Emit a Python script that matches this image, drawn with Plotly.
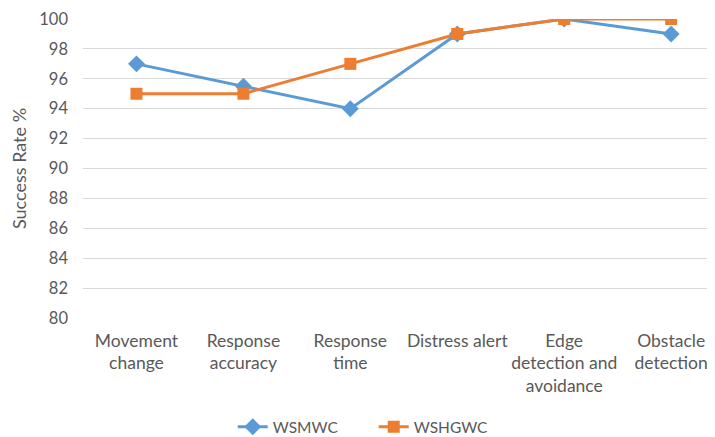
import plotly.graph_objects as go

categories = ["Movement<br>change", "Response<br>accuracy", "Response<br>time",
              "Distress alert", "Edge<br>detection and<br>avoidance", "Obstacle<br>detection"]
wsmwc = [97, 95.5, 94, 99, 100, 99]
wshgwc = [95, 95, 97, 99, 100, 100]
y_ticks = [80, 82, 84, 86, 88, 90, 92, 94, 96, 98, 100]

FONT = "Lato"
GREY = "#595959"

# page body has an 8px default margin, so the figure is drawn 8px smaller
fig = go.Figure()
fig.add_trace(go.Scatter(
    x=list(range(len(categories))), y=wsmwc, name="WSMWC", mode="lines+markers",
    line=dict(color="#5B9BD5", width=3),
    marker=dict(symbol="diamond", size=13, color="#5B9BD5")))
fig.add_trace(go.Scatter(
    x=list(range(len(categories))), y=wshgwc, name="WSHGWC", mode="lines+markers",
    line=dict(color="#ED7D31", width=3),
    marker=dict(symbol="square", size=12, color="#ED7D31")))

fig.update_layout(
    width=707, height=429,
    margin=dict(l=75, r=0, t=11, b=119, autoexpand=False),
    paper_bgcolor="white", plot_bgcolor="white",
    font=dict(family=FONT, size=16, color=GREY),
    showlegend=True,
    legend=dict(orientation="h", x=0.46, xanchor="center",
                y=-0.365, yanchor="middle", font=dict(size=15.5, color=GREY),
                entrywidth=96, entrywidthmode="pixels", tracegroupgap=0),
    xaxis=dict(tickmode="array", tickvals=list(range(len(categories))), ticktext=categories,
               range=[-0.5, 5.41], showgrid=False, zeroline=False, automargin=False,
               tickangle=0, showline=False, ticks="", ticklabelstandoff=10,
               tickfont=dict(size=17.5, color=GREY)),
    yaxis=dict(range=[80, 100], tickvals=y_ticks, showgrid=True, gridcolor="#D9D9D9",
               gridwidth=1, zeroline=False, showline=False, ticks="", automargin=False,
               ticklabelstandoff=14, tickfont=dict(size=16.5, color=GREY),
               title=dict(text="Success Rate %", font=dict(size=18, color=GREY), standoff=10)),
)
fig.write_html("out.html")
